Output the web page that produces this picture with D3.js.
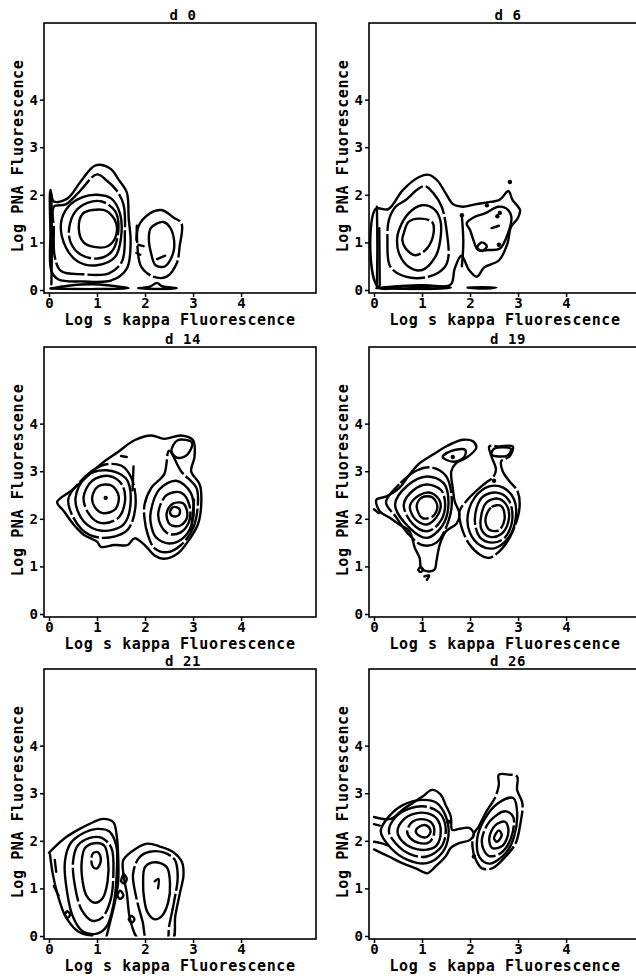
<!DOCTYPE html>
<html>
<head>
<meta charset="utf-8">
<script src="https://cdn.jsdelivr.net/npm/d3@7.9.0/dist/d3.min.js"></script>
<style>
  body { margin: 0; background: #fff; }
  svg { display: block; font-family: "DejaVu Sans Mono", monospace; font-weight: bold; }
</style>
</head>
<body>
<svg id="chart" width="636" height="979"></svg>
<script>
const panelTitles = ["d 0", "d 6", "d 14", "d 19", "d 21", "d 26"];
const xTicks = [0, 1, 2, 3, 4];
const yTicks = [0, 1, 2, 3, 4];
const xLabel = "Log s kappa Fluorescence";
const yLabel = "Log PNA Fluorescence";

// contours, points are [log kappa, log PNA]
// rings = closed contour lines, lines = open pieces, dots = single events

const d0Rings = [
  [[0.03,2.10],[0.10,1.86],[0.38,1.92],[0.66,2.28],[0.97,2.62],[1.28,2.55],[1.45,2.32],[1.62,2.05],[1.66,1.5],[1.7,1.0],[1.62,0.45],[1.3,0.2],[0.7,0.18],[0.2,0.22],[0.05,0.4],[0.03,1.2]],
  [[0.1,1.75],[0.35,1.8],[0.62,2.05],[1.0,2.43],[1.2,2.3],[1.4,2.1],[1.55,1.8],[1.58,1.2],[1.52,0.6],[1.25,0.35],[0.7,0.33],[0.25,0.4],[0.12,0.7],[0.1,1.3]],
  [[0.25,1.4],[0.4,1.75],[0.7,1.95],[1.0,2.0],[1.3,1.92],[1.48,1.6],[1.5,1.1],[1.38,0.7],[1.0,0.52],[0.6,0.6],[0.35,0.9]],
  [[0.42,1.3],[0.55,1.65],[0.8,1.83],[1.1,1.86],[1.38,1.65],[1.44,1.2],[1.3,0.8],[1.0,0.66],[0.65,0.75],[0.45,1.0]],
  [[0.62,1.3],[0.7,1.6],[0.9,1.68],[1.2,1.66],[1.4,1.4],[1.38,1.1],[1.22,0.92],[0.97,0.9],[0.72,1.0]],
  [[1.86,1.33],[2.1,1.61],[2.34,1.68],[2.6,1.52],[2.76,1.40],[2.72,0.91],[2.66,0.56],[2.45,0.28],[2.17,0.28],[1.92,0.49],[1.84,0.95]],
  [[2.12,1.3],[2.38,1.43],[2.55,1.26],[2.6,0.84],[2.42,0.5],[2.22,0.52],[2.12,0.8],[2.08,1.05]]
];
const d0Lines = [
  [[0.05,0.12],[0.06,1.0],[0.05,2.0]],
  [[1.82,1.05],[1.83,1.35]],
  [[1.86,0.95],[1.97,0.92]],
  [[1.82,0.78],[1.9,0.74]],
  [[2.25,0.65],[2.42,0.72]],
  [[0.03,0.03],[0.4,0.09],[0.9,0.12],[1.3,0.09],[1.66,0.04],[1.0,0.02],[0.03,0.03]],
  [[1.86,0.04],[2.1,0.07],[2.25,0.15],[2.35,0.08],[2.66,0.04],[2.2,0.02],[1.86,0.04]]
];
const d0Dots = [];

const d6Rings = [
  [[0.03,1.70],[0.3,1.70],[0.6,2.1],[0.95,2.38],[1.15,2.42],[1.32,2.3],[1.5,2.02],[1.65,1.8],[1.85,1.75],[2.1,1.8],[2.35,1.84],[2.62,1.9],[2.8,2.08],[2.88,1.9],[3.04,1.68],[3.0,1.52],[2.85,1.32],[2.78,0.98],[2.6,0.62],[2.3,0.48],[2.14,0.28],[1.98,0.42],[1.82,0.72],[1.68,0.45],[1.6,0.12],[1.2,0.07],[0.6,0.07],[0.08,0.07]],
  [[0.31,1.47],[0.45,1.75],[0.66,1.89],[0.93,2.13],[1.07,2.18],[1.24,2.03],[1.41,1.75],[1.52,1.19],[1.55,0.7],[1.48,0.49],[1.14,0.28],[0.66,0.28],[0.34,0.49],[0.28,1.05]],
  [[0.48,1.05],[0.52,1.26],[0.72,1.61],[1.0,1.78],[1.24,1.71],[1.38,1.47],[1.38,1.05],[1.28,0.7],[1.0,0.42],[0.72,0.49],[0.52,0.77]],
  [[0.59,1.05],[0.62,1.19],[0.72,1.43],[0.93,1.5],[1.21,1.43],[1.24,1.19],[1.1,0.87],[0.86,0.73],[0.66,0.87]],
  [[1.93,1.4],[2.1,1.54],[2.31,1.61],[2.59,1.75],[2.76,1.71],[2.86,1.54],[2.79,1.19],[2.62,0.87],[2.38,0.84],[2.17,0.84],[2.07,1.05],[2.0,1.26]],
  [[2.15,0.9],[2.25,1.0],[2.35,0.92],[2.25,0.82]]
];
const d6Lines = [
  [[0.06,0.08],[0.07,0.9],[0.06,1.75]],
  [[0.12,0.1],[0.11,1.3]],
  [[1.83,0.5],[1.86,1.0],[1.83,1.55]],
  [[0.05,0.04],[0.5,0.08],[1.0,0.1],[1.6,0.05],[1.0,0.02],[0.05,0.04]],
  [[1.95,0.05],[2.25,0.06],[2.55,0.05],[2.25,0.03],[1.95,0.05]],
  [[2.45,1.3],[2.6,1.35]]
];
const d6Dots = [[2.83,2.27],[1.83,1.57],[2.35,1.78],[2.6,0.95],[2.57,1.55],[2.62,1.62]];

const d14Rings = [
  [[0.17,2.35],[0.45,2.58],[0.73,2.83],[1.08,3.15],[1.43,3.4],[1.78,3.65],[2.13,3.75],[2.4,3.68],[2.75,3.75],[3.0,3.65],[3.03,3.3],[2.96,3.0],[3.14,2.72],[3.17,2.3],[3.1,1.88],[2.89,1.52],[2.68,1.27],[2.4,1.16],[2.2,1.23],[1.99,1.45],[1.78,1.59],[1.64,1.45],[1.36,1.45],[1.08,1.41],[1.0,1.52],[0.73,1.66],[0.52,1.87],[0.31,2.16]],
  [[0.4,2.4],[0.65,2.78],[1.1,3.12],[1.5,3.12],[1.72,2.85],[1.8,2.25],[1.62,1.75],[1.1,1.6],[0.68,1.78]],
  [[0.55,2.42],[0.78,2.9],[1.2,3.02],[1.6,2.85],[1.7,2.35],[1.55,1.88],[1.1,1.75],[0.72,1.95]],
  [[0.72,2.45],[0.9,2.8],[1.25,2.9],[1.52,2.72],[1.58,2.35],[1.42,2.0],[1.05,1.92],[0.82,2.12]],
  [[0.9,2.45],[1.02,2.68],[1.3,2.7],[1.45,2.48],[1.38,2.2],[1.12,2.12],[0.95,2.25]],
  [[1.99,2.3],[2.13,2.65],[2.4,2.94],[2.5,3.43],[2.75,3.0],[3.07,2.65],[3.1,2.3],[3.0,1.8],[2.75,1.45],[2.47,1.3],[2.2,1.38],[2.06,1.66],[1.99,2.0]],
  [[2.12,2.15],[2.3,2.62],[2.65,2.8],[2.95,2.55],[3.0,2.0],[2.82,1.62],[2.5,1.48],[2.22,1.62],[2.12,1.9]],
  [[2.28,2.15],[2.45,2.5],[2.75,2.55],[2.92,2.3],[2.92,1.95],[2.75,1.72],[2.5,1.68],[2.32,1.88]],
  [[2.45,2.12],[2.58,2.32],[2.8,2.32],[2.88,2.05],[2.74,1.86],[2.52,1.88]],
  [[2.52,2.15],[2.6,2.25],[2.72,2.2],[2.7,2.07],[2.57,2.06]],
  [[2.55,3.42],[2.68,3.65],[2.98,3.6],[2.88,3.35],[2.68,3.28]]
];
const d14Lines = [
  [[1.74,2.6],[1.76,3.1]],
  [[1.5,3.32],[1.62,3.3]],
  [[2.96,1.75],[3.02,2.4]]
];
const d14Dots = [[1.18,2.44]];

const d19Rings = [
  [[0.05,2.4],[0.26,2.47],[0.53,2.65],[0.74,2.93],[0.95,3.17],[1.23,3.35],[1.5,3.52],[1.85,3.66],[2.06,3.63],[2.13,3.49],[1.92,3.28],[1.71,3.17],[1.61,3.0],[1.64,2.65],[1.68,2.37],[1.78,2.1],[1.72,1.9],[1.5,1.74],[1.37,1.46],[1.3,1.11],[1.26,0.93],[1.09,0.9],[0.98,0.97],[0.95,1.18],[0.85,1.39],[0.74,1.74],[0.53,1.88],[0.33,2.02],[0.12,2.16]],
  [[0.25,2.35],[0.55,2.75],[0.9,3.02],[1.2,3.08],[1.5,2.9],[1.62,2.4],[1.55,1.95],[1.3,1.5],[1.0,1.45],[0.7,1.7],[0.45,2.05]],
  [[0.44,2.3],[0.7,2.7],[1.1,2.89],[1.45,2.75],[1.55,2.3],[1.42,1.85],[1.1,1.6],[0.75,1.8]],
  [[0.62,2.3],[0.82,2.6],[1.1,2.72],[1.4,2.6],[1.48,2.25],[1.35,1.9],[1.1,1.74],[0.8,1.9]],
  [[0.75,2.28],[0.95,2.5],[1.2,2.54],[1.38,2.35],[1.33,2.08],[1.1,1.88],[0.85,2.0]],
  [[0.89,2.28],[1.0,2.45],[1.22,2.45],[1.32,2.25],[1.22,2.05],[1.0,2.02]],
  [[1.43,3.3],[1.6,3.42],[1.9,3.45],[1.88,3.3],[1.65,3.2]],
  [[1.78,2.16],[1.92,2.37],[2.2,2.65],[2.37,2.79],[2.47,2.86],[2.54,3.03],[2.45,3.3],[2.4,3.52],[2.61,3.52],[2.89,3.52],[2.82,3.31],[2.65,3.21],[2.68,3.0],[2.82,2.79],[2.99,2.58],[3.03,2.23],[2.89,1.74],[2.68,1.39],[2.4,1.18],[2.2,1.25],[1.99,1.46],[1.85,1.74],[1.78,2.02]],
  [[1.95,2.05],[2.1,2.45],[2.4,2.68],[2.7,2.65],[2.92,2.4],[2.95,2.0],[2.8,1.6],[2.5,1.38],[2.2,1.45],[2.0,1.7]],
  [[2.1,2.0],[2.25,2.45],[2.55,2.55],[2.8,2.4],[2.88,1.98],[2.72,1.6],[2.45,1.5],[2.2,1.62]],
  [[2.22,1.98],[2.35,2.35],[2.6,2.42],[2.78,2.25],[2.8,1.95],[2.65,1.68],[2.42,1.62],[2.25,1.75]],
  [[2.32,1.98],[2.45,2.25],[2.65,2.27],[2.72,2.0],[2.6,1.76],[2.4,1.77]],
  [[2.45,3.35],[2.5,3.47],[2.85,3.47],[2.78,3.33]]
];
const d19Lines = [
  [[0.92,0.93],[0.97,0.99],[1.02,0.93],[0.97,0.88],[0.92,0.93]],
  [[1.05,0.79],[1.15,0.81],[1.1,0.72]],
  [[0.0,2.2],[0.1,2.12]]
];
const d19Dots = [[1.64,3.3],[2.5,2.8]];

const d21Rings = [
  [[0.33,1.55],[0.45,1.95],[0.75,2.18],[1.0,2.25],[1.25,2.2],[1.4,1.9],[1.41,1.3],[1.35,0.7],[1.2,0.2],[1.0,0.05],[0.7,0.1],[0.5,0.4],[0.38,0.9]],
  [[0.5,1.55],[0.6,1.9],[0.85,2.06],[1.1,2.06],[1.3,1.85],[1.34,1.3],[1.28,0.75],[1.1,0.38],[0.9,0.32],[0.68,0.55],[0.55,1.0]],
  [[0.68,1.55],[0.75,1.85],[0.95,1.95],[1.15,1.9],[1.23,1.6],[1.22,1.15],[1.12,0.8],[0.95,0.7],[0.78,0.85],[0.7,1.15]],
  [[0.88,1.6],[0.92,1.74],[1.02,1.76],[1.08,1.6],[1.0,1.42],[0.92,1.45]],
  [[1.55,1.6],[1.8,1.83],[2.05,1.94],[2.31,1.88],[2.59,1.76],[2.77,1.55],[2.8,1.27],[2.73,0.92],[2.63,0.42],[2.56,-0.1],[1.9,-0.1],[1.7,0.3],[1.62,0.9],[1.55,1.3]],
  [[1.75,1.3],[1.88,1.65],[2.1,1.77],[2.4,1.75],[2.62,1.6],[2.68,1.25],[2.6,0.7],[2.5,0.2],[2.45,-0.1],[2.05,-0.1],[1.95,0.3],[1.82,0.8]],
  [[1.96,1.1],[2.0,1.45],[2.2,1.55],[2.45,1.45],[2.52,1.1],[2.48,0.7],[2.35,0.42],[2.2,0.35],[2.05,0.5],[1.98,0.8]]
];
const d21Lines = [
  [[0.0,1.75],[0.15,1.9],[0.36,2.08],[0.64,2.25],[0.92,2.39],[1.13,2.46],[1.34,2.39],[1.41,2.11],[1.44,1.69],[1.44,1.13],[1.37,0.7],[1.27,0.28],[1.2,0.0]],
  [[0.02,1.72],[0.08,1.3],[0.2,0.8],[0.35,0.4],[0.6,0.1],[0.9,0.0]],
  [[0.12,1.6],[0.15,1.35]],
  [[0.1,1.05],[0.2,0.85]],
  [[1.5,1.15],[1.55,1.3],[1.62,1.2],[1.56,1.1],[1.5,1.15]],
  [[1.42,0.85],[1.48,0.95],[1.55,0.85],[1.48,0.78],[1.42,0.85]],
  [[0.33,0.45],[0.38,0.52],[0.44,0.45],[0.38,0.38],[0.33,0.45]],
  [[1.66,0.35],[1.72,0.42],[1.78,0.35],[1.72,0.28],[1.66,0.35]],
  [[2.2,1.15],[2.28,1.2],[2.27,1.0]]
];
const d21Dots = [];

const d26Rings = [
  [[0.14,2.2],[0.3,2.5],[0.6,2.75],[1.0,2.86],[1.3,2.8],[1.5,2.5],[1.55,2.1],[1.42,1.75],[1.1,1.53],[0.7,1.6],[0.35,1.85]],
  [[0.31,2.2],[0.45,2.5],[0.75,2.68],[1.07,2.72],[1.35,2.6],[1.49,2.3],[1.42,1.9],[1.1,1.67],[0.75,1.72],[0.45,1.95]],
  [[0.49,2.2],[0.62,2.45],[0.85,2.57],[1.1,2.58],[1.32,2.45],[1.39,2.2],[1.3,1.9],[1.07,1.81],[0.8,1.85],[0.58,2.0]],
  [[0.69,2.2],[0.8,2.4],[1.05,2.45],[1.22,2.35],[1.25,2.15],[1.15,1.97],[0.95,1.95],[0.76,2.05]],
  [[0.87,2.2],[0.95,2.3],[1.1,2.32],[1.18,2.2],[1.1,2.08],[0.95,2.1]],
  [[2.08,2.15],[2.18,2.3],[2.32,2.58],[2.53,2.93],[2.6,3.18],[2.6,3.39],[2.81,3.39],[2.98,3.35],[2.98,3.07],[3.09,2.79],[3.05,2.37],[2.95,1.95],[2.74,1.67],[2.46,1.42],[2.25,1.42],[2.12,1.6],[2.05,1.88]],
  [[2.15,2.05],[2.3,2.45],[2.57,2.78],[2.9,2.9],[2.98,2.6],[2.92,2.1],[2.75,1.75],[2.4,1.52],[2.2,1.65]],
  [[2.25,2.05],[2.42,2.42],[2.73,2.62],[2.9,2.5],[2.85,2.05],[2.65,1.75],[2.4,1.68],[2.28,1.82]],
  [[2.4,2.05],[2.52,2.32],[2.73,2.4],[2.8,2.2],[2.68,1.9],[2.46,1.85]],
  [[2.5,2.05],[2.6,2.22],[2.66,2.12],[2.56,1.98]]
];
const d26Lines = [
  [[0.0,2.5],[0.35,2.46],[0.59,2.65],[0.8,2.79],[1.01,2.93],[1.21,3.07],[1.39,2.97],[1.49,2.76],[1.6,2.51],[1.63,2.23],[1.77,2.25],[1.98,2.27],[2.08,2.15],[2.0,2.02],[1.77,1.95],[1.6,1.85],[1.49,1.67],[1.28,1.46],[1.11,1.32],[0.87,1.42],[0.59,1.53],[0.31,1.67],[0.0,1.82]],
  [[0.0,1.98],[0.15,1.95],[0.3,1.9]],
  [[0.0,2.35],[0.12,2.32]]
];
const d26Dots = [[2.08,1.67],[1.55,2.4]];

const panels = [
  { title: panelTitles[0], rings: d0Rings, lines: d0Lines, dots: d0Dots },
  { title: panelTitles[1], rings: d6Rings, lines: d6Lines, dots: d6Dots },
  { title: panelTitles[2], rings: d14Rings, lines: d14Lines, dots: d14Dots },
  { title: panelTitles[3], rings: d19Rings, lines: d19Lines, dots: d19Dots },
  { title: panelTitles[4], rings: d21Rings, lines: d21Lines, dots: d21Dots },
  { title: panelTitles[5], rings: d26Rings, lines: d26Lines, dots: d26Dots }
];

const colLeft = [44, 369];
const rowTop = [23, 347, 669];
const frameW = 272;
const frameH = 270;

const xScale = d3.scaleLinear().domain([-0.104, 5.56]).range([0, frameW]);
const yScale = d3.scaleLinear().domain([-0.063, 5.61]).range([frameH, 0]);

const ringPath = d3.line()
  .x(d => xScale(d[0]))
  .y(d => yScale(d[1]))
  .curve(d3.curveCatmullRomClosed.alpha(0.5));

const openPath = d3.line()
  .x(d => xScale(d[0]))
  .y(d => yScale(d[1]))
  .curve(d3.curveCatmullRom.alpha(0.5));

const svg = d3.select("#chart");

panels.forEach((p, i) => {
  const g = svg.append("g")
    .attr("transform", `translate(${colLeft[i % 2]},${rowTop[Math.floor(i / 2)]})`);

  g.append("clipPath")
    .attr("id", `clip${i}`)
    .append("rect")
    .attr("x", 0)
    .attr("y", 0)
    .attr("width", frameW)
    .attr("height", yScale(0) + 0.5);

  g.append("rect")
    .attr("width", frameW)
    .attr("height", frameH)
    .attr("fill", "none")
    .attr("stroke", "#000")
    .attr("stroke-width", 1.6);

  const plot = g.append("g").attr("clip-path", `url(#clip${i})`);

  plot.selectAll("path.ring")
    .data(p.rings)
    .join("path")
    .attr("class", "ring")
    .attr("d", ringPath)
    .attr("fill", "none")
    .attr("stroke", "#000")
    .attr("stroke-width", 2.4)
    .attr("stroke-linejoin", "round")
    .attr("stroke-dasharray", (d, k) => k % 2 ? "34 3" : null);

  plot.selectAll("path.piece")
    .data(p.lines)
    .join("path")
    .attr("class", "piece")
    .attr("d", openPath)
    .attr("fill", "none")
    .attr("stroke", "#000")
    .attr("stroke-width", 2.4)
    .attr("stroke-linecap", "round");

  plot.selectAll("circle")
    .data(p.dots)
    .join("circle")
    .attr("cx", d => xScale(d[0]))
    .attr("cy", d => yScale(d[1]))
    .attr("r", 2.2)
    .attr("fill", "#000");

  const yAxis = g.append("g")
    .call(d3.axisLeft(yScale).tickValues(yTicks).tickSize(4).tickPadding(2).tickFormat(d3.format("d")));
  yAxis.select(".domain").remove();

  const xAxis = g.append("g")
    .attr("transform", `translate(0,${frameH})`)
    .call(d3.axisBottom(xScale).tickValues(xTicks).tickSize(4).tickPadding(1).tickFormat(d3.format("d")));
  xAxis.select(".domain").remove();

  g.selectAll(".tick line").attr("stroke", "#000").attr("stroke-width", 1.5);
  g.selectAll(".tick text")
    .attr("fill", "#000")
    .style("font-family", "'DejaVu Sans Mono', monospace")
    .style("font-weight", "bold")
    .style("font-size", "14px");

  g.append("text")
    .attr("x", frameW / 2 + 3)
    .attr("y", -3)
    .attr("text-anchor", "middle")
    .style("font-size", "14px")
    .style("letter-spacing", "0.6px")
    .text(p.title);

  g.append("text")
    .attr("x", frameW / 2)
    .attr("y", frameH + 32)
    .attr("text-anchor", "middle")
    .style("font-size", "15px")
    .style("letter-spacing", "0.6px")
    .text(xLabel);

  g.append("text")
    .attr("transform", `translate(-26,${frameH / 2 - 2}) rotate(-90)`)
    .attr("text-anchor", "middle")
    .attr("dy", "0.35em")
    .style("font-size", "15px")
    .style("letter-spacing", "0.6px")
    .text(yLabel);
});
</script>
</body>
</html>
